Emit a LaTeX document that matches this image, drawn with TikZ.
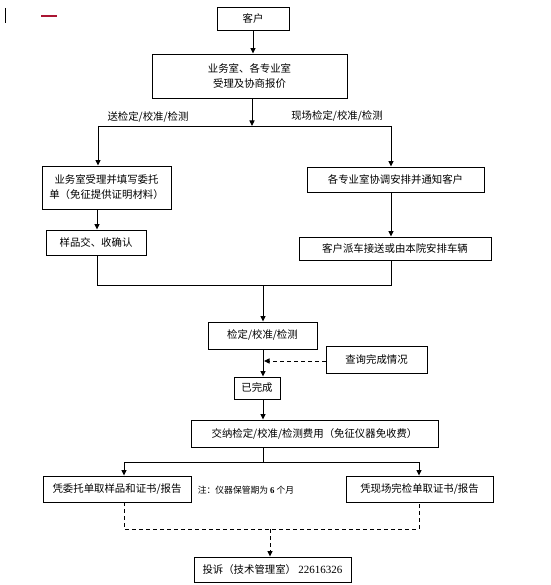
\documentclass[tikz,border=0pt]{standalone}
\usepackage{fontspec}
\setmainfont{Noto Sans CJK SC}
\newfontfamily\digitfont{Liberation Serif}
\usetikzlibrary{arrows.meta}
\definecolor{markred}{RGB}{170,20,50}
\begin{document}
\begin{tikzpicture}[x=1pt,y=-1pt,
  box/.style={draw=black,line width=0.9pt,inner sep=0pt,font=\fontsize{10.4}{15}\selectfont,align=center},
  conn/.style={line width=0.9pt,draw=black},
  arr/.style={conn,-{Triangle[length=5.5pt,width=5pt]}},
  dsh/.style={conn,dash pattern=on 4pt off 3pt},
  lbl/.style={font=\fontsize{10.4}{12}\selectfont,inner sep=0pt}]
\useasboundingbox (0,0) rectangle (550,585);
% decorative marks
\draw[line width=0.9pt] (5,8) -- (5,23);
\draw[draw=markred,line width=1.5pt] (41,16) -- (57,16);
% nodes
\node[box,minimum width=72pt,minimum height=23pt] (kh) at (253,18.5) {客户};
\node[box,minimum width=195pt,minimum height=44pt] (sl) at (249.5,76) {业务室、各专业室\\受理及协商报价};
\node[box,minimum width=129pt,minimum height=43pt] (wt) at (106.5,187.5) {业务室受理并填写委托\\单（免征提供证明材料）};
\node[box,minimum width=100pt,minimum height=25pt] (yp) at (96,242.5) {样品交、收确认};
\node[box,minimum width=177pt,minimum height=25pt] (xt) at (395.5,179.5) {各专业室协调安排并通知客户};
\node[box,minimum width=192pt,minimum height=23pt] (pc) at (395,248.5) {客户派车接送或由本院安排车辆};
\node[box,minimum width=109pt,minimum height=27pt] (jd) at (262.5,335.5) {检定/校准/检测};
\node[box,minimum width=101pt,minimum height=27pt] (cx) at (376.5,359.5) {查询完成情况};
\node[box,minimum width=46pt,minimum height=22pt] (ywc) at (257,388) {已完成};
\node[box,minimum width=247pt,minimum height=27pt] (fy) at (314.5,433.5) {交纳检定/校准/检测费用（免征仪器免收费）};
\node[box,minimum width=148pt,minimum height=26pt] (qy) at (117,489) {凭委托单取样品和证书/报告};
\node[box,minimum width=147pt,minimum height=26pt] (qx) at (419.5,489) {凭现场完检单取证书/报告};
\node[box,minimum width=157pt,minimum height=25pt] (ts) at (272.5,569.5) {投诉（技术管理室）\ {\digitfont\fontsize{11}{12}\selectfont 22616326}};
% labels
\node[lbl] (l1) at (148,117) {送检定/校准/检测};
\node[lbl] (l2) at (337,116) {现场检定/校准/检测};
\node[lbl,font=\fontsize{8.8}{10}\selectfont] (nt) at (246,490) {注：仪器保管期为 {\digitfont\bfseries 6} 个月};
% coordinates
\coordinate (s1) at (252,126);
\coordinate (bl) at (98,126);
\coordinate (br) at (391,126);
\coordinate (m1) at (97,285);
\coordinate (m2) at (391,285);
\coordinate (mc) at (263,285);
\coordinate (jx) at (263,349);
\coordinate (jc) at (263,361);
\coordinate (f1) at (263,447);
\coordinate (fb) at (263,462);
\coordinate (fl) at (124,462);
\coordinate (fr) at (419,462);
\coordinate (dl) at (124,529);
\coordinate (dr) at (419,529);
\coordinate (dc) at (270,529);
% connectors
\draw[arr] (kh.south) -- (kh.south |- sl.north);
\draw[arr] (sl.south -| s1) -- (s1);
\draw[conn] (bl) -- (br);
\draw[arr] (bl) -- (bl |- wt.north);
\draw[arr] (br) -- (br |- xt.north);
\draw[arr] (wt.south -| m1) -- (m1 |- yp.north);
\draw[arr] (xt.south -| m2) -- (m2 |- pc.north);
\draw[conn] (yp.south -| m1) -- (m1) -- (m2) -- (pc.south -| m2);
\draw[arr] (mc) -- (mc |- jd.north);
\draw[arr] (jd.south -| jx) -- (jx |- ywc.north);
\draw[dsh,-{Triangle[length=5.5pt,width=5pt]}] (cx.west |- jc) -- ([xshift=1pt]jc);
\draw[arr] (ywc.south -| f1) -- (f1 |- fy.north);
\draw[conn] (f1) -- (fb);
\draw[conn] (fl) -- (fr);
\draw[arr] (fl) -- (fl |- qy.north);
\draw[arr] (fr) -- (fr |- qx.north);
\draw[dsh] (qy.south -| dl) -- (dl) -- (dr) -- (qx.south -| dr);
\draw[dsh,-{Triangle[length=5.5pt,width=5pt]}] (dc) -- (dc |- ts.north);
\end{tikzpicture}
\end{document}
